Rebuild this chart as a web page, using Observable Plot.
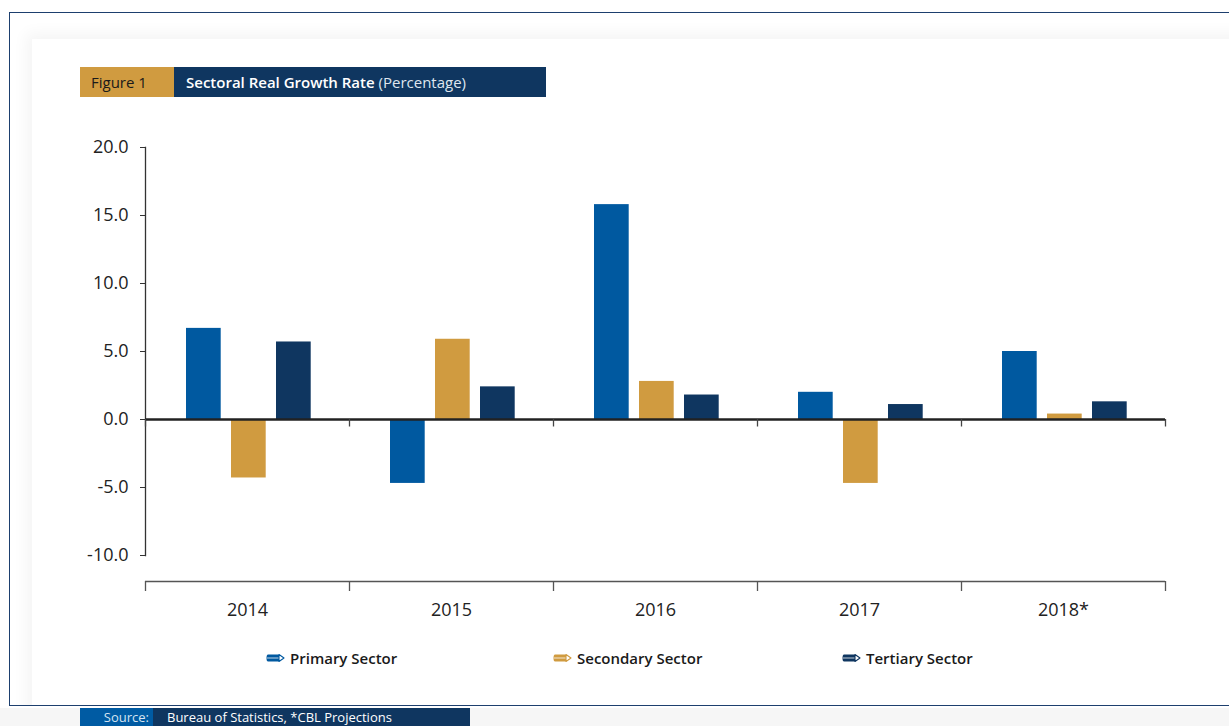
<!DOCTYPE html>
<html>
<head>
<meta charset="utf-8">
<script src="https://cdn.jsdelivr.net/npm/d3@7"></script>
<script src="https://cdn.jsdelivr.net/npm/@observablehq/plot@0.6"></script>
<style>
  html, body { margin: 0; padding: 0; background: #ffffff; }
  body { width: 1229px; height: 726px; position: relative; overflow: hidden; font-family: "Open Sans", sans-serif; }
  #below { position: absolute; left: 0; top: 708px; width: 1229px; height: 30px; background: #f6f6f6; }
  #card { position: absolute; left: 9px; top: 12px; width: 1240px; height: 694px; border: 1.5px solid #1d3f6e; background: #fff; box-sizing: border-box; overflow: hidden; }
  #inner { position: absolute; left: 22px; top: 26px; width: 1300px; height: 700px; background: #fff; box-shadow: 0 0 14px 6px rgba(0,0,0,0.045); }
  #titlebar { position: absolute; left: 80px; top: 67px; height: 30px; display: flex; font-size: 15px; line-height: 30px; }
  #titlebar .fig { width: 94px; background: #d09b40; color: #1a1a1a; padding-left: 11px; box-sizing: border-box; }
  #titlebar .ttl { width: 372px; background: #0f3660; color: #fff; padding-left: 12px; box-sizing: border-box; }
  #titlebar .ttl b { font-weight: 600; }
  #titlebar .ttl span { color: #dfe6ef; }
  #chart { position: absolute; left: 0; top: 0; }
  #legend { position: absolute; top: 648px; left: 0; width: 1229px; height: 22px; }
  .item { position: absolute; display: flex; align-items: center; font-size: 15px; font-weight: 600; color: #1a1a1a; }
  .item svg { margin-right: 5px; }
  #source { position: absolute; left: 80px; top: 708px; height: 20px; display: flex; font-size: 13px; line-height: 18px; }
  #source .lab { width: 73px; background: #005ba3; color: #d6e4f2; text-align: right; padding-right: 4px; box-sizing: border-box; }
  #source .txt { width: 317px; background: #0f3660; color: #fff; padding-left: 14px; box-sizing: border-box; }
</style>
</head>
<body>
<div id="below"></div>
<div id="card"><div id="inner"></div></div>
<div id="titlebar"><div class="fig">Figure 1</div><div class="ttl"><b>Sectoral Real Growth Rate</b> <span>(Percentage)</span></div></div>
<div id="chart"></div>
<div id="legend"></div>
<div id="source"><div class="lab">Source:</div><div class="txt">Bureau of Statistics, *CBL Projections</div></div>
<script>
// ---- data ----
const years = ["2014", "2015", "2016", "2017", "2018*"];
const sectors = ["Primary Sector", "Secondary Sector", "Tertiary Sector"];
const primary = [6.7, -4.7, 15.8, 2.0, 5.0];
const secondary = [-4.3, 5.9, 2.8, -4.7, 0.4];
const tertiary = [5.7, 2.4, 1.8, 1.1, 1.3];
const yTicks = [-10, -5, 0, 5, 10, 15, 20];

// ---- styles ----
const colors = ["#0059a0", "#d09b40", "#0f3660"];
const seriesValues = [primary, secondary, tertiary];

const rows = [];
sectors.forEach((s, i) => years.forEach((y, j) => rows.push({ year: y, sector: s, value: seriesValues[i][j] })));

// layout constants (px)
const band = (1165 - 145) / years.length;   // 204
const pxPerUnit = (555 - 147) / 30;
const insets = [[41, 128.3], [86, 83.3], [131, 38.3]];
const baseAxisY = -10 - 26 / pxPerUnit;
const baseTickY = -10 - 36 / pxPerUnit;
const zeroTickY = -7.5 / pxPerUnit;

const marks = [];
sectors.forEach((s, i) => {
  marks.push(Plot.barY(rows.filter(r => r.sector === s), {
    x: "year", y: "value", fill: colors[i],
    insetLeft: insets[i][0], insetRight: insets[i][1]
  }));
});
marks.push(
  Plot.frame({ anchor: "left", stroke: "#333", strokeWidth: 1.3 }),
  Plot.axisY({ ticks: yTicks, tickFormat: d => d.toFixed(1), tickSize: 5, tickPadding: 12, fontSize: 18, label: null, stroke: "#333", fill: "#222" }),
  Plot.ruleY([0], { stroke: "#222", strokeWidth: 2.6 }),
  Plot.ruleX(years, { x: d => d, dx: -band / 2, y1: 0, y2: zeroTickY, stroke: "#444", strokeWidth: 1.3 }),
  Plot.ruleX(years.slice(-1), { x: d => d, dx: band / 2, y1: 0, y2: zeroTickY, stroke: "#444", strokeWidth: 1.3 }),
  Plot.ruleY([baseAxisY], { stroke: "#555", strokeWidth: 1.3 }),
  Plot.ruleX(years, { x: d => d, dx: -band / 2, y1: baseAxisY, y2: baseTickY, stroke: "#555", strokeWidth: 1.3 }),
  Plot.ruleX(years.slice(-1), { x: d => d, dx: band / 2, y1: baseAxisY, y2: baseTickY, stroke: "#555", strokeWidth: 1.3 }),
  Plot.axisX({ tickSize: 0, tickPadding: 48, fontSize: 18, label: null, fill: "#222" })
);

const chart = Plot.plot({
  width: 1229, height: 640,
  marginLeft: 145, marginRight: 64, marginTop: 147, marginBottom: 85,
  x: { type: "band", domain: years, padding: 0 },
  y: { domain: [-10, 20] },
  style: { fontFamily: "Open Sans", background: "transparent", color: "#222", overflow: "visible" },
  marks
});
document.getElementById("chart").appendChild(chart);

// legend
const legendX = [266, 553, 842];
const legend = document.getElementById("legend");
sectors.forEach((s, i) => {
  const d = document.createElement("div");
  d.className = "item";
  d.style.left = legendX[i] + "px";
  d.innerHTML = `<svg width="19" height="10" viewBox="0 0 19 10">
    <path d="M2,1.5 H13 V8.5 H2 Q0.5,8.5 0.5,5 Q0.5,1.5 2,1.5 Z" fill="${colors[i]}"/>
    <rect x="1" y="4.3" width="12" height="1.4" fill="#fff" opacity="0.55"/>
    <path d="M13,1.5 L18,5 L13,8.5 Z" fill="#fff" stroke="${colors[i]}" stroke-width="1.1" stroke-linejoin="round"/>
  </svg><span>${s}</span>`;
  legend.appendChild(d);
});
</script>
</body>
</html>
